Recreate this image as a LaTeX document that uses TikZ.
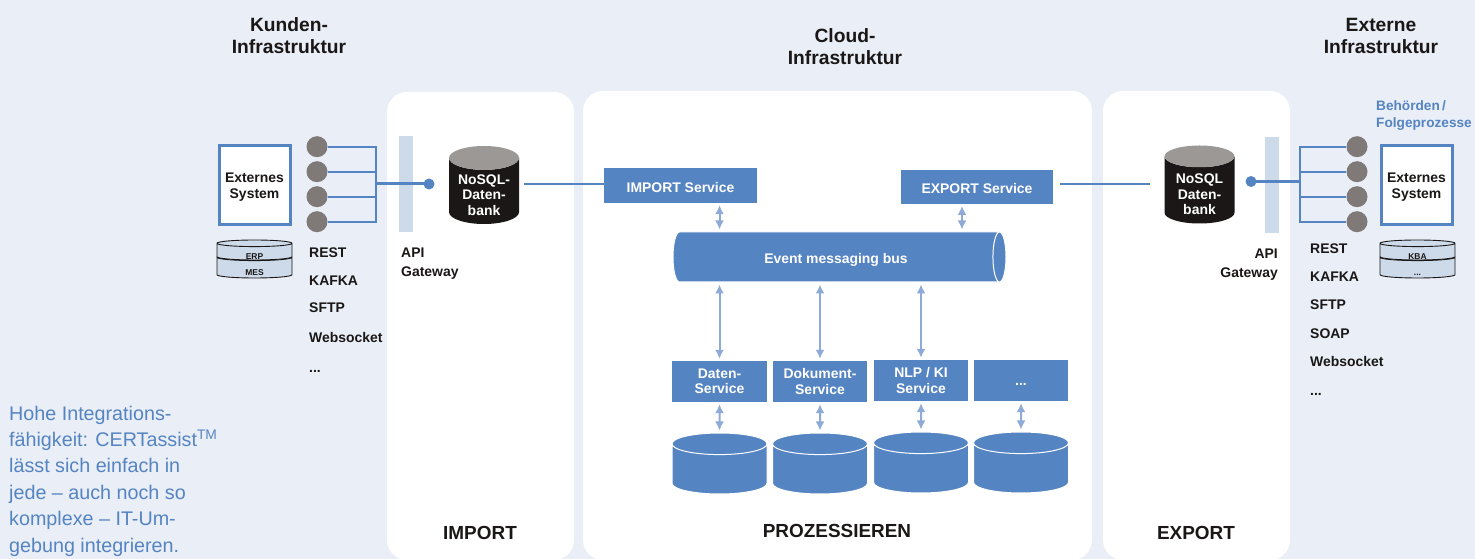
\documentclass[tikz,border=0pt]{standalone}
\usepackage{fontspec}
\setmainfont{Liberation Sans}
\usepackage{tikz}
\usetikzlibrary{arrows.meta}
\usetikzlibrary{shapes.geometric}
\usetikzlibrary{positioning}
\definecolor{pagecol}{HTML}{E9EEF7}
\definecolor{bluecol}{HTML}{5584C2}
\definecolor{arrowcol}{HTML}{8EABD8}
\definecolor{barcol}{HTML}{CDDAE9}
\definecolor{roundcol}{HTML}{7F7A78}
\definecolor{inkcol}{HTML}{1A1716}
\definecolor{capcol}{HTML}{9C9896}
\newcommand{\dropped}[2][2bp]{\raisebox{-#1}[\height][\depth]{#2}}
\newcommand{\tiertext}[2][5bp]{\dropped[#1]{\makebox[20bp]{#2}}}
\tikzset{
  panel/.style={fill=white, rounded corners=20bp},
  headlabel/.style={align=center, font=\fontsize{19.3}{22}\selectfont\bfseries, text=inkcol, inner sep=0pt},
  zonelabel/.style={font=\fontsize{19}{22}\selectfont\bfseries, text=inkcol, inner sep=0pt},
  smalllabel/.style={anchor=west, font=\fontsize{14}{19}\selectfont\bfseries, text=inkcol, inner sep=0pt},
  service/.style={fill=bluecol, text=white, align=center, inner sep=0pt, font=\fontsize{14}{15.5}\selectfont\bfseries},
  extbox/.style={draw=bluecol, line width=3bp, fill=white, minimum width=71bp, minimum height=79bp, align=center, inner sep=0pt, font=\fontsize{14}{16}\selectfont\bfseries, text=inkcol},
  pin/.style={circle, fill=roundcol, minimum size=21bp, inner sep=0pt},
  dot/.style={circle, fill=bluecol, minimum size=11bp, inner sep=0pt},
  bar/.style={fill=barcol, minimum width=14bp, minimum height=96bp, inner sep=0pt},
  store/.style={cylinder, anchor=shape center, shape border rotate=90, aspect=0.46, cylinder uses custom fill, cylinder body fill=inkcol, cylinder end fill=capcol, minimum width=70bp, minimum height=78bp, inner sep=0pt, align=center, text=white, font=\fontsize{14}{15.5}\selectfont\bfseries},
  disk/.style={cylinder, anchor=shape center, shape border rotate=90, aspect=0.36, cylinder uses custom fill, cylinder body fill=bluecol, cylinder end fill=bluecol, draw=white, line width=1bp, minimum width=95bp, minimum height=61bp, inner sep=0pt},
  tier/.style={cylinder, anchor=shape center, shape border rotate=90, aspect=0.33, cylinder uses custom fill, cylinder body fill=barcol, cylinder end fill=barcol, draw=inkcol, line width=0.9bp, minimum width=75bp, inner sep=0pt, font=\fontsize{8.5}{9}\selectfont\bfseries, text=inkcol},
  link/.style={draw=bluecol, line width=2bp},
  thick link/.style={draw=bluecol, line width=3bp},
  cross link/.style={draw=bluecol, line width=1.8bp},
  flow/.style={{Latex[width=9bp,length=9bp]}-{Latex[width=9bp,length=9bp]}, draw=arrowcol, line width=2bp, shorten <=2bp, shorten >=2bp},
}
\begin{document}
\begin{tikzpicture}
\useasboundingbox (0bp,0bp) rectangle (1475bp,559bp);
\clip (0bp,0bp) rectangle (1475bp,559bp);
\fill [pagecol] (0bp,0bp) rectangle (1475bp,559bp);
\fill [panel] (387bp,-1bp) rectangle (574bp,467bp);
\fill [panel] (583bp,-1bp) rectangle (1092bp,468bp);
\fill [panel] (1103bp,-1bp) rectangle (1290bp,468bp);
%% headings
\node (kunden) at (289bp,523bp) [headlabel] {Kunden-\\Infrastruktur};
\node (cloud) at (845bp,512bp) [headlabel] {Cloud-\\Infrastruktur};
\node (externe) at (1381bp,523bp) [headlabel] {Externe\\Infrastruktur};
\node (zoneimp) at (480bp,26bp) [zonelabel] {IMPORT};
\node (zoneproz) at (837bp,28bp) [zonelabel] {PROZESSIEREN};
\node (zoneexp) at (1196bp,26bp) [zonelabel] {EXPORT};
%% customer side
\node (extl) at (254.5bp,373.5bp) [extbox] {\dropped{Externes}\\\dropped{System}};
\node (mes) at (254.5bp,293bp) [tier, minimum height=24bp] {\tiertext{MES}};
\node (erp) at (254.5bp,309bp) [tier, minimum height=20bp] {\tiertext{ERP}};
\node (pl1) at (317bp,412.3bp) [pin] {};
\node (pl2) at (317bp,387.3bp) [pin] {};
\node (pl3) at (317bp,362.3bp) [pin] {};
\node (pl4) at (317bp,337.3bp) [pin] {};
\coordinate (brkl) at (376bp,375bp);
\draw [link] (pl1) -- (pl1 -| brkl) -- (pl4 -| brkl) -- (pl4);
\draw [link] (pl2) -- (pl2 -| brkl);
\draw [link] (pl3) -- (pl3 -| brkl);
\node (gwl) at (406bp,375bp) [bar] {};
\node (dotl) at (429bp,375bp) [dot] {};
\draw [thick link] (brkl) -- (dotl.center);
\node (nosqll) at (484bp,374bp) [store] {\dropped[4bp]{NoSQL-}\\\dropped[4bp]{Daten-}\\\dropped[4bp]{bank}};
\node (rest1) at (309bp,306bp) [smalllabel] {REST};
\node (kafka1) at (309bp,278bp) [smalllabel] {KAFKA};
\node (sftp1) at (309bp,251bp) [smalllabel] {SFTP};
\node (sock1) at (309bp,221bp) [smalllabel] {Websocket};
\node (more1) at (309bp,188bp) [smalllabel] {...};
\node (apil) at (401bp,295.5bp) [smalllabel, align=left] {API\\Gateway};
%% cloud
\node (impsvc) at (680.5bp,373.5bp) [service, minimum width=153bp, minimum height=35bp] {\dropped{IMPORT Service}};
\node (expsvc) at (977bp,372bp) [service, minimum width=152bp, minimum height=34bp] {\dropped{EXPORT Service}};
\coordinate (expflow) at (962bp,355bp);
\node (bus) at (839.5bp,302bp) [cylinder, anchor=shape center, aspect=1, cylinder uses custom fill, cylinder body fill=bluecol, cylinder end fill=bluecol, draw=white, line width=1bp, minimum width=50bp, minimum height=333bp, inner sep=0pt, text=white, font=\fontsize{14}{15.5}\selectfont\bfseries] {\dropped[3bp]{Event messaging bus}};
\node (svc1) at (719.5bp,177.5bp) [service, minimum width=95bp, minimum height=41bp] {Daten-\\Service};
\node (svc2) at (820bp,177.5bp) [service, minimum width=94bp, minimum height=41bp] {Dokument-\\Service};
\node (svc3) at (921bp,178.5bp) [service, minimum width=94bp, minimum height=41bp] {NLP / KI\\Service};
\node (svc4) at (1021bp,178.5bp) [service, minimum width=94bp, minimum height=41bp] {\dropped[4bp]{...}};
\node (db1) at (719.5bp,95.5bp) [disk] {\makebox[60bp]{}};
\node (db2) at (820bp,95.5bp) [disk] {\makebox[60bp]{}};
\node (db3) at (921bp,96.5bp) [disk] {\makebox[60bp]{}};
\node (db4) at (1021bp,96.5bp) [disk] {\makebox[60bp]{}};
\draw [flow] (svc1.south) -- (db1.north);
\draw [flow] (svc2.south) -- (db2.north);
\draw [flow] (svc3.south) -- (db3.north);
\draw [flow] (svc4.south) -- (db4.north);
\draw [flow] (bus.south -| svc1) -- (svc1.north);
\draw [flow] (bus.south -| svc2) -- (svc2.north);
\draw [flow] (bus.south -| svc3) -- (svc3.north);
\draw [flow] (impsvc.south -| svc1) -- (bus.north -| svc1);
\draw [flow] (expflow) -- (bus.north -| expflow);
%% external side
\node (nosqlr) at (1199.5bp,374.5bp) [store] {\dropped[4.5bp]{NoSQL}\\\dropped[4.5bp]{Daten-}\\\dropped[4.5bp]{bank}};
\node (gwr) at (1272bp,374bp) [bar] {};
\node (dotr) at (1251bp,377.5bp) [dot] {};
\coordinate (brkr) at (1300bp,377.5bp);
\draw [thick link] (dotr.center) -- (brkr);
\node (pr1) at (1357bp,412.3bp) [pin] {};
\node (pr2) at (1357bp,387.3bp) [pin] {};
\node (pr3) at (1357bp,362.3bp) [pin] {};
\node (pr4) at (1357bp,337.3bp) [pin] {};
\draw [link] (pr1) -- (pr1 -| brkr) -- (pr4 -| brkr) -- (pr4);
\draw [link] (pr2) -- (pr2 -| brkr);
\draw [link] (pr3) -- (pr3 -| brkr);
\node (extr) at (1416.5bp,373.5bp) [extbox] {\dropped{Externes}\\\dropped{System}};
\node (dots) at (1417.5bp,293bp) [tier, minimum height=24bp] {\tiertext[7bp]{...}};
\node (kba) at (1417.5bp,309bp) [tier, minimum height=20bp] {\tiertext{KBA}};
\node (behoerden) at (1376bp,443.5bp) [anchor=west, align=left, inner sep=0pt, text=bluecol, font=\fontsize{13.7}{17}\selectfont\bfseries] {Behörden\,/\\Folgeprozesse};
\node (rest2) at (1310bp,310bp) [smalllabel] {REST};
\node (kafka2) at (1310bp,282bp) [smalllabel] {KAFKA};
\node (sftp2) at (1310bp,254bp) [smalllabel] {SFTP};
\node (soap2) at (1310bp,225bp) [smalllabel] {SOAP};
\node (sock2) at (1310bp,197bp) [smalllabel] {Websocket};
\node (more2) at (1310bp,165bp) [smalllabel] {...};
\node (apir) at (1278bp,294.5bp) [smalllabel, anchor=east, align=right] {API\\Gateway};
%% links across the panels
\coordinate (impout) at (524bp,375bp);
\coordinate (expout) at (1060bp,375bp);
\draw [cross link] (impout) -- (impout -| impsvc.west);
\draw [cross link, shorten >=14bp] (expout) -- (expout -| nosqlr.west);
%% side note
\node (note) at (9bp,78bp) [anchor=west, align=left, inner sep=0pt, text=bluecol, font=\fontsize{19.8}{26.5}\selectfont] {Hohe Integrations-\\fähigkeit: CERTassist\textsuperscript{TM}\\lässt sich einfach in\\jede -- auch noch so\\komplexe -- IT-Um-\\gebung integrieren.};
\end{tikzpicture}
\end{document}
